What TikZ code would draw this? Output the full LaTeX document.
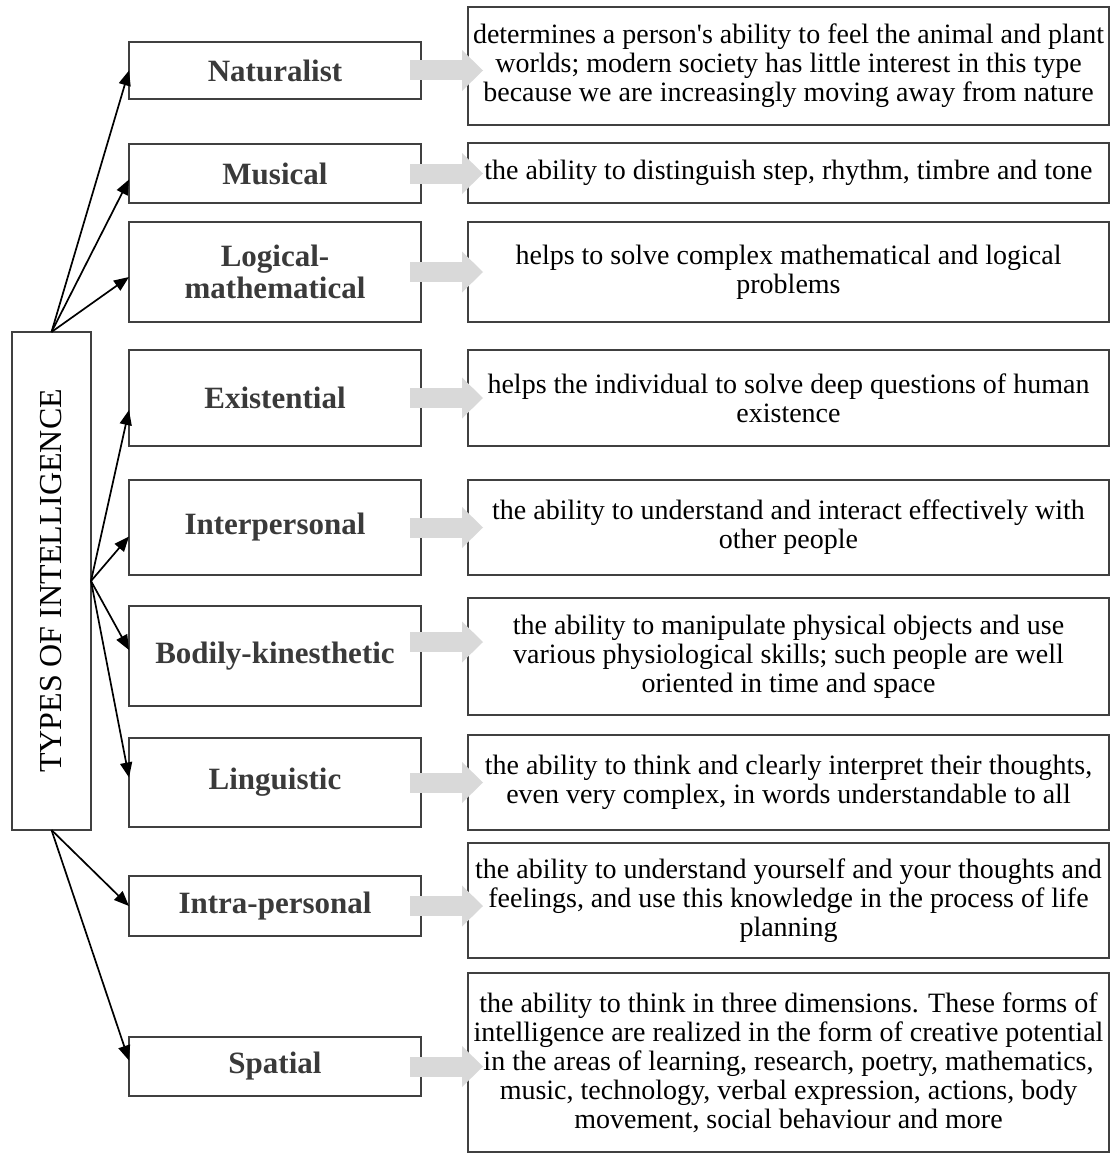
\documentclass[tikz,border=0pt]{standalone}
\usepackage{fontspec}
\setmainfont{Liberation Serif}
\usetikzlibrary{arrows.meta, calc}
\definecolor{boxline}{HTML}{404040}
\definecolor{nametext}{HTML}{3A3A3A}
\definecolor{arrowgray}{HTML}{D9D9D9}

\begin{document}
\begin{tikzpicture}[x=1pt, y=-1pt,
  every node/.style={inner sep=0pt, outer sep=0pt},
  typesbox/.style={draw=boxline, line width=1.3pt,
                   minimum width=498pt, minimum height=79pt,
                   font=\fontsize{32}{36}\selectfont},
  namebox/.style={draw=boxline, line width=1.3pt,
                  minimum width=292pt, align=center, text=nametext,
                  font=\fontsize{31}{32}\selectfont\bfseries},
  descbox/.style={draw=boxline, line width=1.3pt,
                  minimum width=641pt, align=center,
                  font=\fontsize{28}{29}\selectfont},
  fatarrow/.style={draw=arrowgray, line width=20pt,
                   -{Triangle[length=21pt, width=41pt, line width=0pt]}},
  link/.style={line width=1.7pt, -{Triangle[length=15pt, width=12pt]}}]
\useasboundingbox (0,0) rectangle (1111,1153);

\node[typesbox, rotate=90] (types) at (51.5,581) {TYPES OF INTELLIGENCE};

% types
\node[namebox, minimum height=57pt]  (nat)   at (275,70.5)  {Naturalist};
\node[namebox, minimum height=59pt]  (mus)   at (275,173.5) {Musical};
\node[namebox, minimum height=100pt] (log)   at (275,272)   {Logical-\\mathematical};
\node[namebox, minimum height=96pt]  (ex)    at (275,398)   {Existential};
\node[namebox, minimum height=95pt]  (inter) at (275,527.5) {Interpersonal};
\node[namebox, minimum height=100pt] (bod)   at (275,656)   {Bodily-kinesthetic};
\node[namebox, minimum height=89pt]  (ling)  at (275,782.5) {Linguistic};
\node[namebox, minimum height=60pt]  (intra) at (275,906)   {Intra-personal};
\node[namebox, minimum height=59pt]  (spa)   at (275,1066.5) {Spatial};

% descriptions
\node[descbox, minimum height=118pt] (natd) at (788.5,66)
  {determines a person\textquotesingle s ability to feel the animal and plant\\
   worlds; modern society has little interest in this type\\
   because we are increasingly moving away from nature};
\node[descbox, minimum height=60pt] (musd) at (788.5,173)
  {the ability to distinguish step, rhythm, timbre and tone};
\node[descbox, minimum height=100pt] (logd) at (788.5,272)
  {helps to solve complex mathematical and logical\\ problems};
\node[descbox, minimum height=96pt] (exd) at (788.5,398)
  {helps the individual to solve deep questions of human\\ existence};
\node[descbox, minimum height=95pt] (interd) at (788.5,527.5)
  {the ability to understand and interact effectively with\\ other people};
\node[descbox, minimum height=117pt] (bodd) at (788.5,656.5)
  {the ability to manipulate physical objects and use\\
   various physiological skills; such people are well\\
   oriented in time and space};
\node[descbox, minimum height=95pt] (lingd) at (788.5,782.5)
  {the ability to think and clearly interpret their thoughts,\\
   even very complex, in words understandable to all};
\node[descbox, minimum height=115pt] (intrad) at (788.5,900.5)
  {the ability to understand yourself and your thoughts and\\
   feelings, and use this knowledge in the process of life\\
   planning};
\node[descbox, minimum height=179pt] (spad) at (788.5,1062.5)
  {the ability to think in three dimensions. These forms of\\
   intelligence are realized in the form of creative potential\\
   in the areas of learning, research, poetry, mathematics,\\
   music, technology, verbal expression, actions, body\\
   movement, social behaviour and more};

% branches
\draw[link] (types.east) -- (nat.west);
\draw[link] (types.east) -- ($(mus.west)+(0,6)$);
\draw[link] (types.east) -- ($(log.west)+(0,5)$);
\draw[link] (types.south) -- ($(ex.west)+(0,12)$);
\draw[link] (types.south) -- ($(inter.west)+(0,9)$);
\draw[link] (types.south) -- ($(bod.west)+(0,-6)$);
\draw[link] (types.south) -- ($(ling.west)+(0,-5)$);
\draw[link] (types.west) -- (intra.west);
\draw[link] (types.west) -- ($(spa.west)+(0,-6)$);

% gray arrows
\draw[fatarrow] ([xshift=-11pt]nat.east) -- ($(nat.east -| natd.west)+(15,0)$);
\draw[fatarrow] ([xshift=-11pt]mus.east) -- ($(mus.east -| musd.west)+(15,0)$);
\draw[fatarrow] ([xshift=-11pt]log.east) -- ($(log.east -| logd.west)+(15,0)$);
\draw[fatarrow] ([xshift=-11pt]ex.east) -- ($(ex.east -| exd.west)+(15,0)$);
\draw[fatarrow] ([xshift=-11pt]inter.east) -- ($(inter.east -| interd.west)+(15,0)$);
\draw[fatarrow] ($(bod.east)+(-11,-14)$) -- ($(bod.east -| bodd.west)+(15,-14)$);
\draw[fatarrow] ([xshift=-11pt]ling.east) -- ($(ling.east -| lingd.west)+(15,0)$);
\draw[fatarrow] ([xshift=-11pt]intra.east) -- ($(intra.east -| intrad.west)+(15,0)$);
\draw[fatarrow] ([xshift=-11pt]spa.east) -- ($(spa.east -| spad.west)+(15,0)$);
\end{tikzpicture}
\end{document}
